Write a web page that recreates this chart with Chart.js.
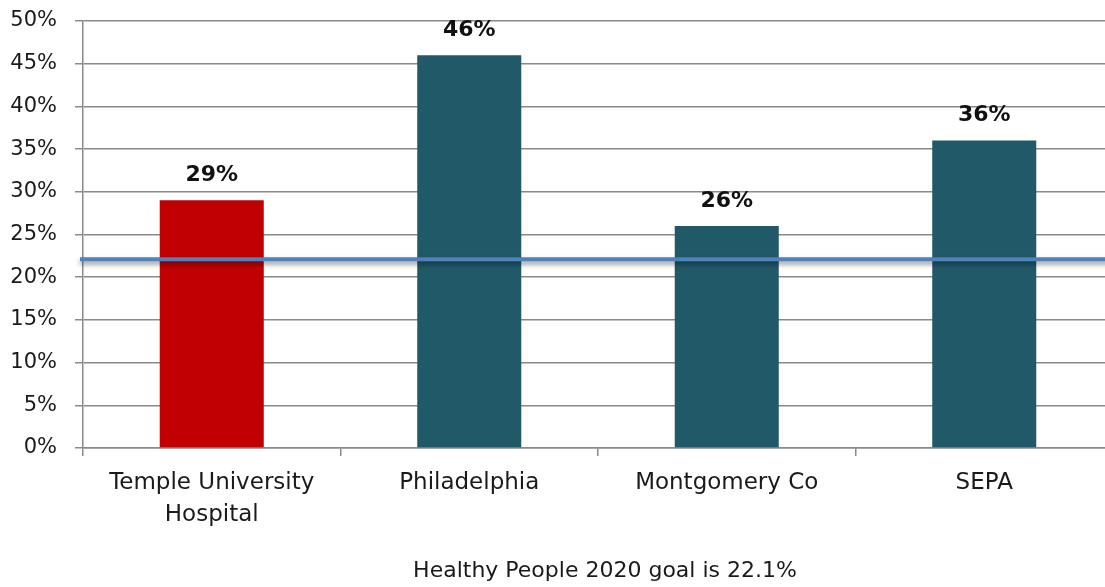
<!DOCTYPE html>
<html>
<head>
<meta charset="utf-8">
<script src="https://cdn.jsdelivr.net/npm/chart.js@4"></script>
<style>
    html, body { margin: 0; padding: 0; background: #fff; overflow: hidden; }
    #wrap { position: relative; width: 1113px; height: 587px; }
    #note {
        position: absolute; left: 0; width: 1210px; top: 557px;
        text-align: center; font: 22px "DejaVu Sans", sans-serif; color: #1a1a1a;
    }
</style>
</head>
<body>
<div id="wrap">
    <canvas id="goalChart" width="1113" height="587"></canvas>
    <div id="note">Healthy People 2020 goal is 22.1%</div>
</div>
<script>
// Dữ liệu
const categories = [['Temple University', 'Hospital'], 'Philadelphia', 'Montgomery Co', 'SEPA'];
const percentValues = [29, 46, 26, 36];
const barColors = ['#c00000', '#215968', '#215968', '#215968'];
const goalValue = 22.1;
const yTicks = [0, 5, 10, 15, 20, 25, 30, 35, 40, 45, 50];

// Vẽ nhãn phần trăm trên mỗi cột
const valueLabels = {
    id: 'valueLabels',
    afterDatasetsDraw(chart) {
        const ctx = chart.ctx;
        const meta = chart.getDatasetMeta(0);
        ctx.save();
        ctx.font = 'bold 22px "DejaVu Sans", sans-serif';
        ctx.fillStyle = '#111';
        ctx.textAlign = 'center';
        ctx.textBaseline = 'bottom';
        meta.data.forEach((bar, i) => {
            ctx.fillText(percentValues[i] + '%', bar.x, bar.y - 14);
        });
        ctx.restore();
    }
};

// Đường mục tiêu 22.1%
const goalLine = {
    id: 'goalLine',
    afterDatasetsDraw(chart) {
        const ctx = chart.ctx;
        const y = chart.scales.y.getPixelForValue(goalValue);
        ctx.save();
        ctx.shadowColor = 'rgba(0, 0, 0, 0.45)';
        ctx.shadowBlur = 5;
        ctx.shadowOffsetY = 3;
        ctx.strokeStyle = '#4f81bd';
        ctx.lineWidth = 4;
        ctx.beginPath();
        ctx.moveTo(chart.chartArea.left - 3, y);
        ctx.lineTo(chart.width, y);
        ctx.stroke();
        ctx.restore();
    }
};

new Chart(document.getElementById('goalChart').getContext('2d'), {
    type: 'bar',
    data: {
        labels: categories,
        datasets: [{
            data: percentValues,
            backgroundColor: barColors,
            categoryPercentage: 1,
            barPercentage: 0.404
        }]
    },
    options: {
        responsive: false,
        animation: false,
        layout: { padding: { top: 21, right: 0, bottom: 0, left: 0 } },
        plugins: {
            legend: { display: false },
            tooltip: { enabled: false }
        },
        scales: {
            x: {
                afterFit: scale => { scale.height = 139; },
                grid: {
                    offset: true,
                    drawOnChartArea: false,
                    color: '#8a8a8a',
                    lineWidth: 1.5,
                    tickLength: 8
                },
                border: { color: '#8a8a8a', width: 1.5 },
                ticks: {
                    color: '#1a1a1a',
                    padding: 11,
                    maxRotation: 0,
                    font: { family: '"DejaVu Sans", sans-serif', size: 23, lineHeight: 1.4 }
                }
            },
            y: {
                min: 0,
                max: 50,
                afterFit: scale => {
                    scale.width = 83;
                    scale.paddingTop = 0;
                    scale.paddingBottom = 0;
                },
                afterBuildTicks: scale => { scale.ticks = yTicks.map(v => ({ value: v })); },
                grid: { color: '#8a8a8a', lineWidth: 1.5, tickLength: 8 },
                border: { color: '#8a8a8a', width: 1.5 },
                ticks: {
                    color: '#1a1a1a',
                    padding: 18,
                    callback: v => v + '%',
                    font: { family: '"DejaVu Sans", sans-serif', size: 21 }
                }
            }
        }
    },
    plugins: [goalLine, valueLabels]
});
</script>
</body>
</html>
